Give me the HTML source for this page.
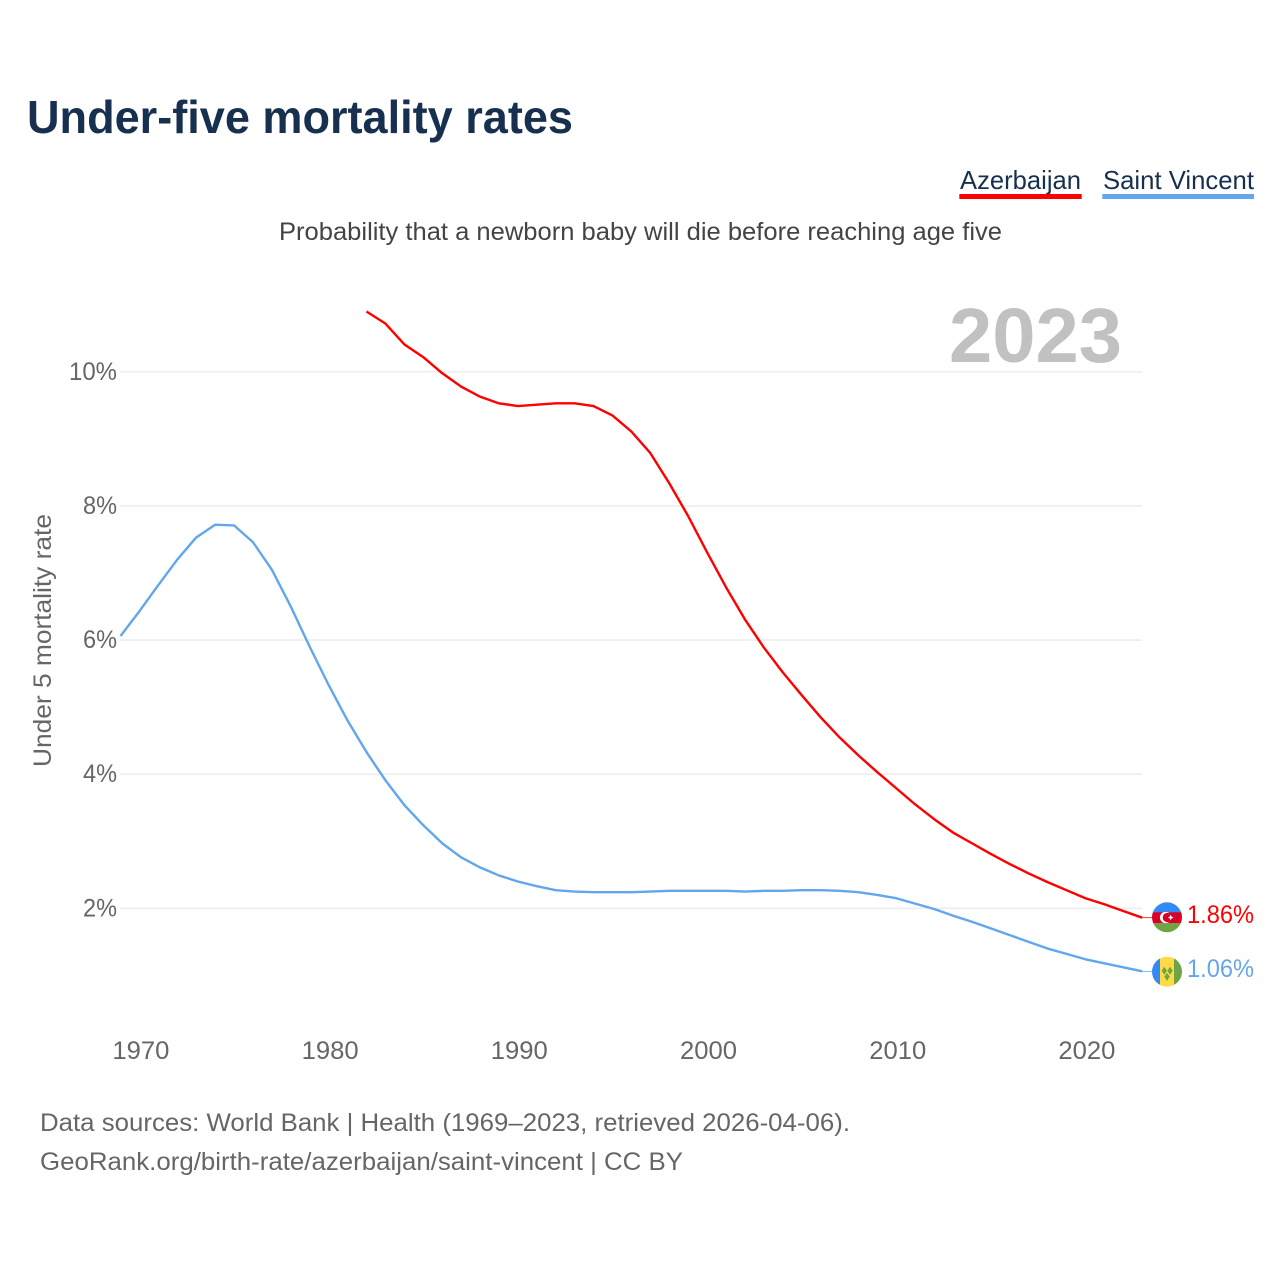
<!DOCTYPE html>
<html lang="en">
<head>
<meta charset="utf-8">
<title>Under-five mortality rates</title>
<style>
html,body{margin:0;padding:0;background:#fff;}
svg{display:block;}
text{font-family:"Liberation Sans",sans-serif;}
</style>
</head>
<body>
<svg id="chart" xmlns="http://www.w3.org/2000/svg" width="1280" height="1280" viewBox="0 0 1280 1280">
  <rect x="0" y="0" width="1280" height="1280" fill="#ffffff"/>
  <text x="27" y="133" font-size="46" font-weight="700" fill="#17304f" textLength="546" lengthAdjust="spacingAndGlyphs">Under-five mortality rates</text>
  <g>
    <text x="960" y="189" font-size="26" fill="#17304f" textLength="121" lengthAdjust="spacingAndGlyphs">Azerbaijan</text>
    <rect x="959.3" y="194" width="122.4" height="5" fill="#ff0000"/>
  </g>
  <g>
    <text x="1103" y="189" font-size="26" fill="#17304f" textLength="151" lengthAdjust="spacingAndGlyphs">Saint Vincent</text>
    <rect x="1102.3" y="194" width="151.7" height="5" fill="#62a6ee"/>
  </g>
  <text x="279" y="240" font-size="25" fill="#444444" textLength="723" lengthAdjust="spacingAndGlyphs">Probability that a newborn baby will die before reaching age five</text>
  <g id="grid"></g>
  <text x="949" y="362" font-size="77" font-weight="700" fill="#c1c1c1" textLength="173" lengthAdjust="spacingAndGlyphs">2023</text>
  <g id="yticks"></g>
  <g id="xticks"></g>
  <text transform="translate(51,767) rotate(-90)" font-size="25" fill="#666666" textLength="253" lengthAdjust="spacingAndGlyphs">Under 5 mortality rate</text>
  <g id="series"></g>
  <defs>
    <clipPath id="flag-az-clip"><circle cx="1167" cy="917.3" r="15"/></clipPath>
    <clipPath id="flag-vc-clip"><circle cx="1167" cy="971.7" r="15"/></clipPath>
  </defs>
  <g clip-path="url(#flag-az-clip)">
    <rect x="1152" y="902" width="30" height="10.5" fill="#338af3"/>
    <rect x="1152" y="912.3" width="30" height="11" fill="#d80027"/>
    <rect x="1152" y="923.3" width="30" height="10" fill="#6da544"/>
    <circle cx="1165.5" cy="917.5" r="5.6" fill="#ffffff"/>
    <circle cx="1167.3" cy="917.5" r="4.6" fill="#d80027"/>
    <polygon points="1170.7,914.6 1171.6,916.6 1173.6,917.5 1171.6,918.4 1170.7,920.4 1169.8,918.4 1167.8,917.5 1169.8,916.6" fill="#ffffff"/>
  </g>
  <g clip-path="url(#flag-vc-clip)">
    <rect x="1152" y="956" width="8.2" height="32" fill="#338af3"/>
    <rect x="1160" y="956" width="14" height="32" fill="#ffda44"/>
    <rect x="1174" y="956" width="8" height="32" fill="#6da544"/>
    <polygon points="1164.3,966.7 1167,970.7 1164.3,974.7 1161.6,970.7" fill="#6da544"/>
    <polygon points="1170,966.7 1172.7,970.7 1170,974.7 1167.3,970.7" fill="#6da544"/>
    <polygon points="1167,972.7 1169.7,976.7 1167,980.7 1164.3,976.7" fill="#6da544"/>
  </g>
  <text id="label-az" x="1187" y="923" font-size="25" fill="#ff0000" textLength="67" lengthAdjust="spacingAndGlyphs"></text>
  <text id="label-vc" x="1187" y="977" font-size="25" fill="#62a6ee" textLength="67" lengthAdjust="spacingAndGlyphs"></text>
  <text x="40" y="1131" font-size="25" fill="#666666" textLength="810" lengthAdjust="spacingAndGlyphs">Data sources: World Bank | Health (1969–2023, retrieved 2026-04-06).</text>
  <text x="40" y="1170" font-size="25" fill="#666666" textLength="643" lengthAdjust="spacingAndGlyphs">GeoRank.org/birth-rate/azerbaijan/saint-vincent | CC BY</text>
</svg>
<script>
const azerbaijanStartYear = 1982;
const azerbaijanValues = [10.90,10.72,10.41,10.22,9.98,9.78,9.63,9.53,9.49,9.51,9.53,9.53,9.49,9.35,9.11,8.79,8.34,7.85,7.31,6.79,6.31,5.89,5.52,5.18,4.85,4.55,4.28,4.03,3.79,3.55,3.33,3.13,2.97,2.81,2.66,2.52,2.39,2.27,2.15,2.06,1.96,1.86];
const saintVincentStartYear = 1969;
const saintVincentValues = [6.06,6.43,6.82,7.20,7.53,7.72,7.71,7.46,7.05,6.50,5.90,5.33,4.80,4.33,3.91,3.54,3.24,2.97,2.76,2.61,2.49,2.40,2.33,2.27,2.25,2.24,2.24,2.24,2.25,2.26,2.26,2.26,2.26,2.25,2.26,2.26,2.27,2.27,2.26,2.24,2.20,2.15,2.07,1.99,1.89,1.80,1.70,1.60,1.50,1.40,1.32,1.24,1.18,1.12,1.06];
const yTickValues = [2,4,6,8,10];
const yTickLabels = ["2%","4%","6%","8%","10%"];
const xTickValues = [1970,1980,1990,2000,2010,2020];
const xTickLabels = ["1970","1980","1990","2000","2010","2020"];

const NS = "http://www.w3.org/2000/svg";
function xScale(year){ return 120.5 + (year - 1969) * 18.92; }
function yScale(value){ return 908.3 - (value - 2) * 67.06; }
function make(tag, parent){
  const el = document.createElementNS(NS, tag);
  parent.appendChild(el);
  return el;
}

const grid = document.getElementById("grid");
const yticks = document.getElementById("yticks");
yTickValues.forEach(function(v, i){
  const line = make("line", grid);
  
  
  line.setAttribute("x1", 120);
  line.setAttribute("x2", xScale(2023));
  line.setAttribute("y1", yScale(v));
  line.setAttribute("y2", yScale(v));
  line.setAttribute("stroke", "#eeeeee");
  line.setAttribute("stroke-width", 1.6);
  const t = make("text", yticks);
  
  
  const label = yTickLabels[i];
  const w = label.length === 3 ? 48 : 34;
  t.setAttribute("x", 117 - w);
  t.setAttribute("y", yScale(v) + 8);
  t.setAttribute("font-size", 25);
  t.setAttribute("fill", "#666666");
  t.setAttribute("textLength", w);
  t.setAttribute("lengthAdjust", "spacingAndGlyphs");
  t.textContent = label;
});

const xticks = document.getElementById("xticks");
xTickValues.forEach(function(y, i){
  const t = make("text", xticks);
  
  
  t.setAttribute("x", xScale(y) - 27);
  t.setAttribute("y", 1059);
  t.setAttribute("font-size", 25);
  t.setAttribute("fill", "#666666");
  t.setAttribute("textLength", 57);
  t.setAttribute("lengthAdjust", "spacingAndGlyphs");
  t.textContent = xTickLabels[i];
});

const series = document.getElementById("series");
function pathFor(values, startYear){
  return values.map(function(v, i){
    return (i ? "L" : "M") + xScale(startYear + i).toFixed(2) + " " + yScale(v).toFixed(2);
  }).join(" ");
}

const azLine = make("path", series);


azLine.setAttribute("d", pathFor(azerbaijanValues, azerbaijanStartYear));
azLine.setAttribute("fill", "none");
azLine.setAttribute("stroke", "#ff0000");
azLine.setAttribute("stroke-width", 2.4);
azLine.setAttribute("stroke-linejoin", "round");

const vcLine = make("path", series);


vcLine.setAttribute("d", pathFor(saintVincentValues, saintVincentStartYear));
vcLine.setAttribute("fill", "none");
vcLine.setAttribute("stroke", "#62a6ee");
vcLine.setAttribute("stroke-width", 2.4);
vcLine.setAttribute("stroke-linejoin", "round");

const azLast = azerbaijanValues[azerbaijanValues.length - 1];
const vcLast = saintVincentValues[saintVincentValues.length - 1];

const azLeader = make("line", series);


azLeader.setAttribute("x1", xScale(2023));
azLeader.setAttribute("x2", 1153);
azLeader.setAttribute("y1", yScale(azLast));
azLeader.setAttribute("y2", yScale(azLast));
azLeader.setAttribute("stroke", "#ff0000");
azLeader.setAttribute("stroke-width", 0.8);

const vcLeader = make("line", series);


vcLeader.setAttribute("x1", xScale(2023));
vcLeader.setAttribute("x2", 1153);
vcLeader.setAttribute("y1", yScale(vcLast));
vcLeader.setAttribute("y2", yScale(vcLast));
vcLeader.setAttribute("stroke", "#62a6ee");
vcLeader.setAttribute("stroke-width", 0.8);

document.getElementById("label-az").textContent = azLast.toFixed(2) + "%";
document.getElementById("label-vc").textContent = vcLast.toFixed(2) + "%";
</script>
</body>
</html>
